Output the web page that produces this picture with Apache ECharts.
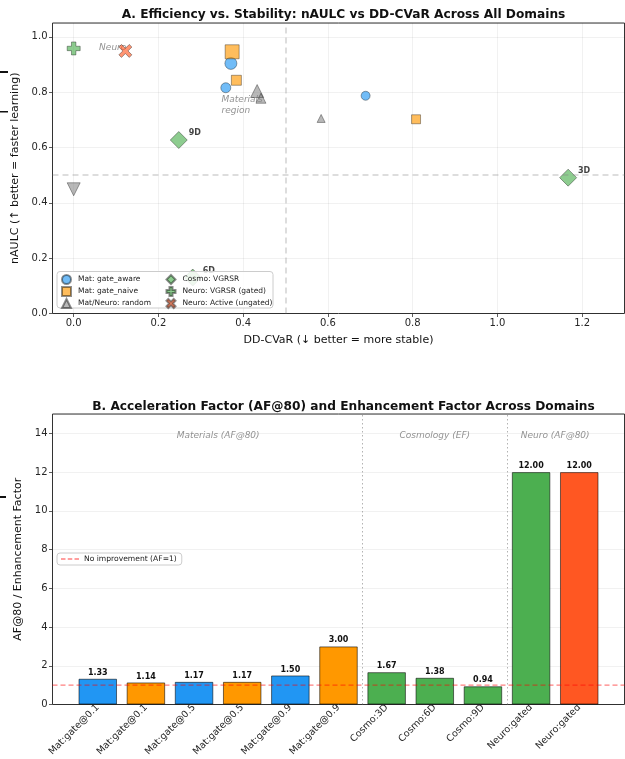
<!DOCTYPE html>
<html>
<head>
<meta charset="utf-8">
<script src="https://cdn.jsdelivr.net/npm/echarts@6/dist/echarts.min.js"></script>
<style>
  html, body { margin: 0; padding: 0; background: #fff; }
  #chart { width: 625px; height: 759px; }
</style>
</head>
<body>
<div id="chart"></div>
<script>
// ---------- Panel A: nAULC vs DD-CVaR ----------
const matAwareCvar = [0.371, 0.359, 0.689];
const matAwareAulc = [0.904, 0.816, 0.787];
const matNaiveCvar = [0.374, 0.384, 0.808];
const matNaiveAulc = [0.946, 0.843, 0.702];
const randomCvar   = [0.433, 0.442, 0.584, 0.000];
const randomAulc   = [0.804, 0.778, 0.705, 0.449];
const randomDomain = ['Mat', 'Mat', 'Mat', 'Neuro'];
const cosmoDims    = ['3D', '6D', '9D'];
const cosmoCvar    = [1.167, 0.281, 0.248];
const cosmoAulc    = [0.491, 0.130, 0.627];
const neuroGatedCvar  = [0.000];
const neuroGatedAulc  = [0.958];
const neuroActiveCvar = [0.122];
const neuroActiveAulc = [0.949];
const stabilityThreshold  = 0.5;
const efficiencyThreshold = 0.5;
const regionNotes = ['Neuro', 'Materials\nregion'];
const regionNoteCvar = [0.060, 0.349];
const regionNoteAulc = [0.962, 0.752];

// ---------- Panel B: AF@80 / EF ----------
const barLabels = ['Mat:gate@0.1', 'Mat:gate@0.1', 'Mat:gate@0.5', 'Mat:gate@0.5',
                   'Mat:gate@0.9', 'Mat:gate@0.9', 'Cosmo:3D', 'Cosmo:6D', 'Cosmo:9D',
                   'Neuro:gated', 'Neuro:gated'];
const barValues = [1.33, 1.14, 1.17, 1.17, 1.50, 3.00, 1.67, 1.38, 0.94, 12.00, 12.00];
const barGroup  = ['aware', 'naive', 'aware', 'naive', 'aware', 'naive',
                   'cosmo', 'cosmo', 'cosmo', 'neuroGated', 'neuroActive'];
const domainNames   = ['Materials (AF@80)', 'Cosmology (EF)', 'Neuro (AF@80)'];
const domainCenters = [2.5, 7, 9.5];
const domainLabelY  = 13.9;
const domainSplits  = [5.5, 8.5];
const noImprovement = 1;

// ---------- styling ----------
const FONT = 'DejaVu Sans';
const EDGE = 'rgba(0,0,0,0.55)';
const awareSizes  = [12, 10, 9];
const naiveSizes  = [14, 10, 9];
const randomSizes = [13, 10, 8, 13];
const barColors = {
  aware: '#2196F3', naive: '#FF9800', cosmo: '#4CAF50',
  neuroGated: '#4CAF50', neuroActive: '#FF5722'
};
const PLUS  = 'path://M33,0 H67 V33 H100 V67 H67 V100 H33 V67 H0 V33 H33 Z';
const CROSS = 'path://M20,0 L50,30 L80,0 L100,20 L70,50 L100,80 L80,100 L50,70 L20,100 L0,80 L30,50 L0,20 Z';
const DASHES = 'path://M0,0 H5 V1.4 H0 Z M7.5,0 H12.5 V1.4 H7.5 Z M15,0 H20 V1.4 H15 Z';

// plot frames
const PLOT_L = 52.5, PLOT_W = 572, PLOT_H = 290.5;
const A_TOP = 23, B_TOP = 414;
const A_XMIN = -0.05, A_XMAX = 1.3, A_YMAX = 1.05;
const B_XMIN = -0.94, B_XMAX = 10.94, B_YMAX = 15;
const aUnit = PLOT_W / (A_XMAX - A_XMIN);
const bUnit = PLOT_W / (B_XMAX - B_XMIN);

const zip = (xs, ys) => xs.map((x, i) => [x, ys[i]]);
const tickText = () => ({ fontFamily: FONT, fontSize: 10, color: '#262626', margin: 5 });
const tickStyle = () => ({ show: true, length: 3.5, inside: false, lineStyle: { color: '#333', width: 0.8 } });
const faintGrid = () => ({ show: true, lineStyle: { color: 'rgba(0,0,0,0.07)', width: 0.8 } });
const noLine = () => ({ show: false, onZero: false });
const legendCol = (left, names) => ({
  left, top: 274, padding: 0, orient: 'vertical', itemWidth: 9, itemHeight: 9, itemGap: 1,
  z: 6, data: names,
  textStyle: { fontFamily: FONT, fontSize: 7.5, color: '#222', lineHeight: 9, padding: [0, 0, 0, 2] }
});

const option = {
  animation: false,
  textStyle: { fontFamily: FONT },
  title: [
    { text: 'A. Efficiency vs. Stability: nAULC vs DD-CVaR Across All Domains',
      left: PLOT_L + PLOT_W / 2, textAlign: 'center', top: 4,
      textStyle: { fontFamily: FONT, fontSize: 12.2, fontWeight: 'bold', color: '#111' } },
    { text: 'B. Acceleration Factor (AF@80) and Enhancement Factor Across Domains',
      left: PLOT_L + PLOT_W / 2, textAlign: 'center', top: 396,
      textStyle: { fontFamily: FONT, fontSize: 12.2, fontWeight: 'bold', color: '#111' } }
  ],
  grid: [
    { left: PLOT_L, top: A_TOP, width: PLOT_W, height: PLOT_H, show: true,
      borderColor: '#333', borderWidth: 1, backgroundColor: 'transparent' },
    { left: PLOT_L - A_XMIN * aUnit, top: A_TOP, width: 1.2 * aUnit, height: PLOT_H },
    { left: PLOT_L, top: B_TOP, width: PLOT_W, height: PLOT_H, show: true,
      borderColor: '#333', borderWidth: 1, backgroundColor: 'transparent' },
    { left: PLOT_L + (-0.5 - B_XMIN) * bUnit, top: B_TOP, width: barLabels.length * bUnit, height: PLOT_H }
  ],
  xAxis: [
    { gridIndex: 0, type: 'value', min: A_XMIN, max: A_XMAX,
      axisLine: noLine(), axisTick: { show: false }, axisLabel: { show: false },
      splitLine: { show: false },
      name: 'DD-CVaR (↓ better = more stable)', nameLocation: 'middle', nameGap: 21,
      nameTextStyle: { fontFamily: FONT, fontSize: 11, color: '#111' } },
    { gridIndex: 1, type: 'value', min: 0, max: 1.2, interval: 0.2,
      axisLine: noLine(), axisTick: tickStyle(),
      axisLabel: Object.assign({ formatter: v => v.toFixed(1) }, tickText()),
      splitLine: faintGrid() },
    { gridIndex: 2, type: 'value', min: B_XMIN, max: B_XMAX, show: false, axisLine: noLine() },
    { gridIndex: 3, type: 'category', data: barLabels,
      axisLine: noLine(),
      axisTick: Object.assign({ alignWithLabel: true }, tickStyle()),
      axisLabel: { interval: 0, rotate: 45, margin: 7, fontFamily: FONT, fontSize: 9.5, color: '#262626' },
      splitLine: { show: false } }
  ],
  yAxis: [
    { gridIndex: 0, type: 'value', min: 0, max: A_YMAX, interval: 0.2,
      axisLine: noLine(), axisTick: tickStyle(),
      axisLabel: Object.assign({ formatter: v => v.toFixed(1), showMaxLabel: false }, tickText()),
      splitLine: faintGrid(),
      name: 'nAULC (↑ better = faster learning)', nameLocation: 'middle', nameGap: 27,
      nameTextStyle: { fontFamily: FONT, fontSize: 11, color: '#111' } },
    { gridIndex: 1, type: 'value', min: 0, max: A_YMAX, show: false, axisLine: noLine() },
    { gridIndex: 2, type: 'value', min: 0, max: B_YMAX, interval: 2,
      axisLine: noLine(), axisTick: tickStyle(),
      axisLabel: Object.assign({ showMaxLabel: false }, tickText()),
      splitLine: faintGrid(),
      name: 'AF@80 / Enhancement Factor', nameLocation: 'middle', nameGap: 22,
      nameTextStyle: { fontFamily: FONT, fontSize: 11, color: '#111' } },
    { gridIndex: 3, type: 'value', min: 0, max: B_YMAX, show: false, axisLine: noLine() }
  ],
  legend: [
    legendCol(61, ['Mat: gate_aware', 'Mat: gate_naive', 'Mat/Neuro: random']),
    legendCol(165.5, ['Cosmo: VGRSR', 'Neuro: VGRSR (gated)', 'Neuro: Active (ungated)']),
    { left: 57, top: 553, orient: 'vertical', itemWidth: 18, itemHeight: 1.4,
      padding: [2, 5, 2, 4], backgroundColor: 'rgba(255,255,255,0.8)',
      borderColor: '#ccc', borderWidth: 1, borderRadius: 3, z: 6,
      data: [{ name: 'No improvement (AF=1)', icon: DASHES }],
      textStyle: { fontFamily: FONT, fontSize: 7.6, color: '#222' } }
  ],
  graphic: [
    { type: 'rect', z: 5, shape: { x: 57, y: 271.5, width: 216, height: 36.5, r: 3 },
      style: { fill: 'rgba(255,255,255,0.85)', stroke: '#cccccc', lineWidth: 1 } },
    { type: 'rect', shape: { x: 0, y: 71, width: 8, height: 2 }, style: { fill: '#111' } },
    { type: 'rect', shape: { x: 0, y: 111, width: 8, height: 1.5 }, style: { fill: '#111' } },
    { type: 'rect', shape: { x: 0, y: 496, width: 6, height: 2 }, style: { fill: '#111' } }
  ],
  series: [
    // threshold guides and region notes
    { type: 'scatter', xAxisIndex: 0, yAxisIndex: 0, silent: true, symbolSize: 0, z: 1,
      data: zip(regionNoteCvar, regionNoteAulc),
      label: { show: true, position: 'right', distance: 0,
               formatter: p => regionNotes[p.dataIndex],
               fontFamily: FONT, fontSize: 9, fontStyle: 'italic', color: '#777', lineHeight: 11 },
      markLine: { silent: true, symbol: 'none', label: { show: false },
                  lineStyle: { color: 'rgba(128,128,128,0.35)', type: [6, 4], width: 1.5 },
                  data: [{ xAxis: stabilityThreshold }, { yAxis: efficiencyThreshold }] } },
    { name: 'Mat: gate_aware', type: 'scatter', xAxisIndex: 0, yAxisIndex: 0, symbol: 'circle',
      symbolSize: (v, p) => awareSizes[p.dataIndex], z: 3,
      itemStyle: { color: 'rgba(33,150,243,0.8)', borderColor: EDGE, borderWidth: 0.8 },
      data: zip(matAwareCvar, matAwareAulc) },
    { name: 'Mat: gate_naive', type: 'scatter', xAxisIndex: 0, yAxisIndex: 0, symbol: 'rect',
      symbolSize: (v, p) => naiveSizes[p.dataIndex], z: 3,
      itemStyle: { color: 'rgba(255,152,0,0.8)', borderColor: EDGE, borderWidth: 0.8 },
      data: zip(matNaiveCvar, matNaiveAulc) },
    { name: 'Mat/Neuro: random', type: 'scatter', xAxisIndex: 0, yAxisIndex: 0, symbol: 'triangle',
      symbolSize: (v, p) => randomSizes[p.dataIndex], z: 3,
      itemStyle: { color: 'rgba(128,128,128,0.7)', borderColor: EDGE, borderWidth: 0.8 },
      data: randomCvar.map((x, i) => ({ value: [x, randomAulc[i]],
                                         symbolRotate: randomDomain[i] === 'Neuro' ? 180 : 0 })) },
    { name: 'Cosmo: VGRSR', type: 'scatter', xAxisIndex: 0, yAxisIndex: 0, symbol: 'diamond',
      symbolSize: 17, z: 3,
      itemStyle: { color: 'rgba(76,175,80,0.8)', borderColor: EDGE, borderWidth: 0.8 },
      label: { show: true, position: 'right', distance: 1, offset: [0, -7],
               formatter: p => cosmoDims[p.dataIndex],
               fontFamily: FONT, fontSize: 8, fontWeight: 'bold', color: '#111' },
      data: zip(cosmoCvar, cosmoAulc) },
    { name: 'Neuro: VGRSR (gated)', type: 'scatter', xAxisIndex: 0, yAxisIndex: 0, symbol: PLUS,
      symbolSize: 13, z: 3,
      itemStyle: { color: 'rgba(76,175,80,0.8)', borderColor: EDGE, borderWidth: 0.8 },
      data: zip(neuroGatedCvar, neuroGatedAulc) },
    { name: 'Neuro: Active (ungated)', type: 'scatter', xAxisIndex: 0, yAxisIndex: 0, symbol: CROSS,
      symbolSize: 13, z: 3,
      itemStyle: { color: 'rgba(255,87,34,0.8)', borderColor: EDGE, borderWidth: 0.8 },
      data: zip(neuroActiveCvar, neuroActiveAulc) },

    // panel B bars
    { type: 'bar', xAxisIndex: 2, yAxisIndex: 2, barWidth: 0.8 * bUnit, z: 2,
      itemStyle: { color: p => barColors[barGroup[p.dataIndex]], borderColor: EDGE, borderWidth: 1 },
      label: { show: true, position: 'top', distance: 2,
               formatter: p => p.value[1].toFixed(2),
               fontFamily: FONT, fontSize: 8, fontWeight: 'bold', color: '#111' },
      data: barValues.map((v, i) => [i, v]) },
    { name: 'No improvement (AF=1)', type: 'line', xAxisIndex: 2, yAxisIndex: 2, z: 4,
      symbol: 'none', silent: true,
      lineStyle: { color: 'rgba(255,0,0,0.5)', type: [5, 3], width: 1.3 },
      itemStyle: { color: 'rgba(255,0,0,0.5)' },
      data: [[B_XMIN, noImprovement], [B_XMAX, noImprovement]] },
    { type: 'scatter', xAxisIndex: 2, yAxisIndex: 2, silent: true, symbolSize: 0, z: 1,
      data: domainCenters.map(c => [c, domainLabelY]),
      label: { show: true, position: 'inside', formatter: p => domainNames[p.dataIndex],
               fontFamily: FONT, fontSize: 9, fontStyle: 'italic', color: '#777' },
      markLine: { silent: true, symbol: 'none', label: { show: false },
                  lineStyle: { color: 'rgba(128,128,128,0.6)', type: [1.5, 2.5], width: 1 },
                  data: domainSplits.map(s => ({ xAxis: s })) } }
  ]
};

const chart = echarts.init(document.getElementById('chart'));
chart.setOption(option);
</script>
</body>
</html>
